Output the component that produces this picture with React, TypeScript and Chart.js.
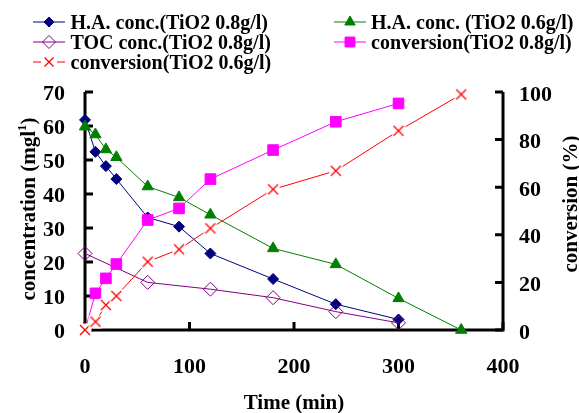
import React, { useEffect, useRef } from 'react';
import { Chart, registerables } from 'chart.js';
import { drawPoint } from 'chart.js/helpers';

Chart.register(...registerables);

// ---- data ----
const timesA = [0, 10, 20, 30, 60, 90, 120, 180, 240, 300];
const timesB = [0, 10, 20, 30, 60, 90, 120, 180, 240, 300, 360];
const timesToc = [0, 60, 120, 180, 240, 300];

const haConc08 = [61.8, 52.4, 48.2, 44.4, 33.1, 30.4, 22.5, 15.0, 7.6, 3.1];
const haConc06 = [59.8, 57.5, 53.1, 50.8, 42.2, 39.0, 33.9, 24.0, 19.3, 9.3, 0];
const tocConc08 = [22.5, 14.0, 12.0, 9.5, 5.4, 2.1];
const conversion08 = [0, 15.4, 21.7, 27.7, 46.2, 51.1, 63.4, 75.6, 87.5, 95.2];
const conversion06 = [0, 3.5, 10.5, 14.3, 28.7, 33.9, 42.7, 59.1, 66.9, 83.7, 99.0];

const xTicks = [0, 100, 200, 300, 400];
const yLeftTicks = [0, 10, 20, 30, 40, 50, 60, 70];
const yRightTicks = [0, 20, 40, 60, 80, 100];

const seriesLabels = [
  'H.A. conc.(TiO2 0.8g/l)',
  'H.A. conc. (TiO2 0.6g/l)',
  'TOC conc.(TiO2 0.8g/l)',
  'conversion(TiO2 0.8g/l)',
  'conversion(TiO2 0.6g/l)',
];
const xTitle = 'Time (min)';
const yLeftTitleMain = 'concentration (mgl';
const yLeftTitleSup = '1';
const yLeftTitleEnd = ')';
const yRightTitle = 'conversion (%)';

const FONT = "'Liberation Serif', 'Times New Roman', serif";

function toPoints(xs: number[], ys: number[]) {
  return xs.map((x, i) => ({ x, y: ys[i] }));
}

function makeXImage(): HTMLCanvasElement {
  const c = document.createElement('canvas');
  c.width = 14;
  c.height = 14;
  const g = c.getContext('2d')!;
  g.fillStyle = '#ffffff';
  g.fillRect(0.5, 0.5, 13, 13);
  g.strokeStyle = '#ff0000';
  g.lineWidth = 1.3;
  g.beginPath();
  g.moveTo(2, 2);
  g.lineTo(12, 12);
  g.moveTo(12, 2);
  g.lineTo(2, 12);
  g.stroke();
  return c;
}

export default function App() {
  const ref = useRef<HTMLCanvasElement | null>(null);

  useEffect(() => {
    const canvas = ref.current;
    if (!canvas) return;
    const xImg = makeXImage();

    const styles = [
      { color: '#000080', fill: '#000080', pointStyle: 'rectRot', radius: 5.5 },
      { color: '#008000', fill: '#008000', pointStyle: 'triangle', radius: 6.5 },
      { color: '#800080', fill: 'rgba(0,0,0,0)', pointStyle: 'rectRot', radius: 7 },
      { color: '#ff00ff', fill: '#ff00ff', pointStyle: 'rect', radius: 7.5 },
      { color: '#ff0000', fill: '#ff0000', pointStyle: xImg as any, radius: 7 },
    ];

    const axesPlugin = {
      id: 'axesFrame',
      beforeDatasetsDraw(chart: any) {
        const { ctx, chartArea: a, scales } = chart;
        ctx.save();
        ctx.strokeStyle = '#000';
        ctx.lineWidth = 3;
        ctx.lineCap = 'butt';
        ctx.beginPath();
        ctx.moveTo(a.left, a.top);
        ctx.lineTo(a.left, a.bottom + 1.5);
        ctx.moveTo(a.left - 1.5, a.bottom);
        ctx.lineTo(a.right + 1.5, a.bottom);
        ctx.moveTo(a.right, a.bottom + 1.5);
        ctx.lineTo(a.right, a.top);
        ctx.stroke();
        const tl = 8;
        ctx.beginPath();
        xTicks.forEach((v) => {
          const px = scales.x.getPixelForValue(v);
          ctx.moveTo(px, a.bottom);
          ctx.lineTo(px, a.bottom - tl);
        });
        yLeftTicks.forEach((v) => {
          const py = scales.y.getPixelForValue(v);
          ctx.moveTo(a.left, py);
          ctx.lineTo(a.left + tl, py);
        });
        yRightTicks.forEach((v) => {
          const py = scales.y1.getPixelForValue(v);
          ctx.moveTo(a.right, py);
          ctx.lineTo(a.right - tl, py);
        });
        ctx.stroke();
        ctx.restore();
      },
      afterDraw(chart: any) {
        const { ctx, chartArea: a } = chart;
        ctx.save();
        ctx.fillStyle = '#000';
        // x title
        ctx.font = `bold 21px ${FONT}`;
        ctx.textAlign = 'center';
        ctx.textBaseline = 'alphabetic';
        ctx.fillText(xTitle, (a.left + a.right) / 2, 409);
        // left title
        ctx.save();
        ctx.translate(35, 209);
        ctx.rotate(-Math.PI / 2);
        ctx.textAlign = 'left';
        ctx.font = `bold 21px ${FONT}`;
        const wMain = ctx.measureText(yLeftTitleMain).width;
        const wEnd = ctx.measureText(yLeftTitleEnd).width;
        ctx.font = `bold 13px ${FONT}`;
        const wSup = ctx.measureText(yLeftTitleSup).width;
        const total = wMain + wSup + wEnd;
        let sx = -total / 2;
        ctx.font = `bold 21px ${FONT}`;
        ctx.fillText(yLeftTitleMain, sx, 0);
        sx += wMain;
        ctx.font = `bold 13px ${FONT}`;
        ctx.fillText(yLeftTitleSup, sx, -9);
        sx += wSup;
        ctx.font = `bold 21px ${FONT}`;
        ctx.fillText(yLeftTitleEnd, sx, 0);
        ctx.restore();
        // right title
        ctx.save();
        ctx.translate(577, 204);
        ctx.rotate(-Math.PI / 2);
        ctx.textAlign = 'center';
        ctx.font = `bold 21px ${FONT}`;
        ctx.fillText(yRightTitle, 0, 0);
        ctx.restore();

        // legend
        const rows = [22, 42, 62];
        const cols = [
          { l0: 33, l1: 65, m: 49, t: 70.5 },
          { l0: 334, l1: 366, m: 350, t: 371 },
        ];
        const slots = [
          [0, 0],
          [1, 0],
          [0, 1],
          [1, 1],
          [0, 2],
        ];
        slots.forEach(([c, r], i) => {
          const col = cols[c];
          const y = rows[r];
          const s = styles[i];
          ctx.strokeStyle = s.color;
          ctx.lineWidth = 1;
          ctx.beginPath();
          if (i === 4) {
            ctx.moveTo(col.l0, y);
            ctx.lineTo(col.m - 8, y);
            ctx.moveTo(col.m + 8, y);
            ctx.lineTo(col.l1, y);
          } else {
            ctx.moveTo(col.l0, y);
            ctx.lineTo(col.l1, y);
          }
          ctx.stroke();
          ctx.fillStyle = s.fill;
          ctx.strokeStyle = s.color;
          if (i === 4) {
            ctx.strokeStyle = '#ff0000';
            ctx.lineWidth = 1.3;
            ctx.beginPath();
            ctx.moveTo(col.m - 4.5, y - 4.5);
            ctx.lineTo(col.m + 4.5, y + 4.5);
            ctx.moveTo(col.m + 4.5, y - 4.5);
            ctx.lineTo(col.m - 4.5, y + 4.5);
            ctx.stroke();
          } else {
            drawPoint(ctx, { pointStyle: s.pointStyle, radius: s.radius - 0.5, borderWidth: 1, rotation: 0 } as any, col.m, y);
          }
          ctx.fillStyle = '#000';
          ctx.font = `bold 20px ${FONT}`;
          ctx.textAlign = 'left';
          ctx.textBaseline = 'alphabetic';
          ctx.fillText(seriesLabels[i], col.t, y + 7);
        });
        ctx.restore();
      },
    };

    const mk = (i: number, data: any[], axis: string, order: number) => ({
      label: seriesLabels[i],
      data,
      yAxisID: axis,
      borderColor: styles[i].color,
      backgroundColor: styles[i].fill,
      pointBackgroundColor: styles[i].fill,
      pointBorderColor: styles[i].color,
      pointStyle: styles[i].pointStyle,
      pointRadius: styles[i].radius,
      pointBorderWidth: 1,
      borderWidth: 1,
      tension: 0,
      fill: false,
      clip: false as any,
      order,
    });

    const tickFont = { family: FONT, size: 22, weight: 'bold' as const };

    const chart = new Chart(canvas, {
      type: 'line',
      data: {
        datasets: [
          mk(0, toPoints(timesA, haConc08), 'y', 5),
          mk(1, toPoints(timesB, haConc06), 'y', 4),
          mk(2, toPoints(timesToc, tocConc08), 'y', 3),
          mk(3, toPoints(timesA, conversion08), 'y1', 2),
          mk(4, toPoints(timesB, conversion06), 'y1', 1),
        ],
      },
      options: {
        animation: false,
        responsive: false,
        devicePixelRatio: 1,
        layout: { padding: { top: 92, left: 0, right: 0, bottom: 0 } },
        plugins: { legend: { display: false }, tooltip: { enabled: false }, title: { display: false } },
        scales: {
          x: {
            type: 'linear',
            min: 0,
            max: 400,
            afterBuildTicks: (s: any) => { s.ticks = xTicks.map((v) => ({ value: v })); },
            ticks: { font: tickFont, color: '#000', padding: 24, maxRotation: 0 },
            grid: { display: false, drawTicks: false },
            border: { display: false },
            afterFit: (s: any) => { s.height = 83; },
          },
          y: {
            type: 'linear',
            position: 'left',
            min: 0,
            max: 70,
            afterBuildTicks: (s: any) => { s.ticks = yLeftTicks.map((v) => ({ value: v })); },
            ticks: { font: tickFont, color: '#000', padding: 20, labelOffset: 2 },
            grid: { display: false, drawTicks: false },
            border: { display: false },
            afterFit: (s: any) => { s.width = 85; },
          },
          y1: {
            type: 'linear',
            position: 'right',
            min: 0,
            max: 100,
            afterBuildTicks: (s: any) => { s.ticks = yRightTicks.map((v) => ({ value: v })); },
            ticks: { font: tickFont, color: '#000', padding: 16, labelOffset: 3 },
            grid: { display: false, drawTicks: false },
            border: { display: false },
            afterFit: (s: any) => { s.width = 76; },
          },
        },
      },
      plugins: [axesPlugin],
    });

    return () => chart.destroy();
  }, []);

  return (
    <div style={{ position: 'fixed', left: 0, top: 0, width: 579, height: 413, background: '#fff' }}>
      <canvas ref={ref} width={579} height={413} style={{ display: 'block', width: 579, height: 413 }} />
    </div>
  );
}
